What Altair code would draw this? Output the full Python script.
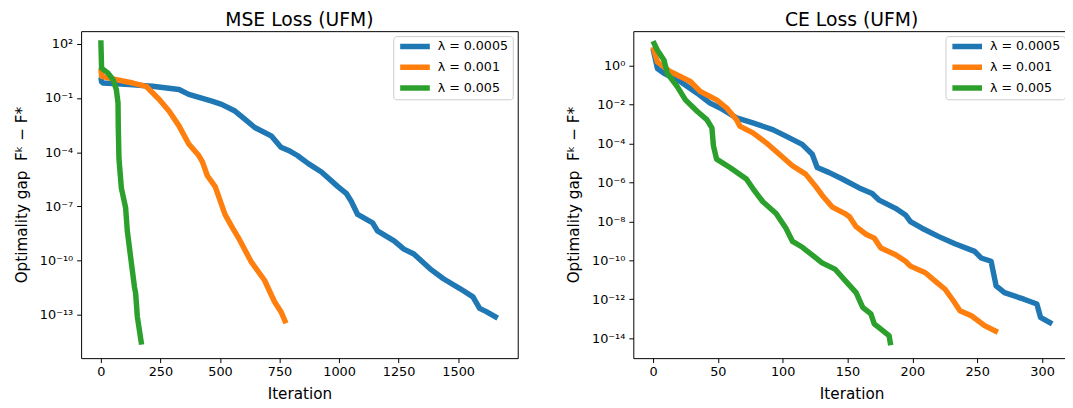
import altair as alt
import pandas as pd

series = ["λ = 0.0005", "λ = 0.001", "λ = 0.005"]
colors = ["#1f77b4", "#ff7f0e", "#2ca02c"]

# ---- MSE Loss (UFM): iteration and log10(optimality gap) ----
mse_blue_x = [0, 3, 10, 120, 217, 328, 369, 466, 507, 563, 604, 646, 715, 756, 788, 825, 871, 926, 995, 1030, 1051, 1078, 1141, 1161, 1231, 1272, 1314, 1382, 1438, 1507, 1562, 1590, 1618, 1666]
mse_blue_log10 = [0.15, -0.1, -0.17, -0.26, -0.35, -0.53, -0.80, -1.17, -1.35, -1.72, -2.17, -2.63, -3.09, -3.72, -3.90, -4.18, -4.63, -5.09, -5.90, -6.27, -6.71, -7.44, -7.90, -8.35, -8.90, -9.36, -9.63, -10.45, -11.0, -11.54, -12.0, -12.64, -12.82, -13.18]

mse_orange_x = [0, 3, 65, 134, 190, 245, 286, 328, 369, 411, 426, 447, 480, 521, 552, 577, 632, 687, 729, 756, 777]
mse_orange_log10 = [0.65, 0.20, 0.02, -0.17, -0.35, -1.08, -1.72, -2.54, -3.54, -4.18, -4.52, -5.30, -5.90, -7.44, -8.17, -8.72, -10.08, -11.08, -12.27, -12.82, -13.46]

mse_green_x = [0, 3, 30, 51, 65, 72, 73, 76, 86, 104, 111, 125, 141, 146, 153, 171]
mse_green_log10 = [2.2, 0.65, 0.38, 0.02, -0.53, -1.27, -2.54, -4.36, -5.98, -7.08, -8.35, -9.81, -11.45, -11.8, -13.09, -14.64]

# ---- CE Loss (UFM) ----
ce_blue_x = [0, 3.4, 8.5, 21, 34, 44, 51.7, 64.4, 77, 92.3, 102.5, 115, 122.8, 126.6, 135.5, 146, 159, 169, 174.4, 187, 194.7, 198.5, 207.4, 220, 232.8, 248, 253, 260.7, 264.6, 271, 286, 296, 298.8, 307.8]
ce_blue_log10 = [0.88, -0.14, -0.39, -0.81, -1.41, -1.92, -2.17, -2.68, -2.94, -3.28, -3.62, -4.04, -4.55, -5.23, -5.48, -5.82, -6.28, -6.57, -6.91, -7.33, -7.67, -8.01, -8.35, -8.77, -9.15, -9.54, -9.88, -10.05, -11.32, -11.66, -12.0, -12.25, -12.93, -13.27]

ce_orange_x = [0, 3.4, 13.6, 28.8, 36.4, 49, 56.8, 64.4, 66.9, 77, 87.3, 97.4, 107.5, 117.7, 125.4, 130.4, 138, 148, 151.5, 156.6, 164.2, 170.6, 175.7, 187, 194.7, 198.5, 210, 217.6, 225.2, 231.6, 236.7, 245.5, 255.7, 265.9]
ce_orange_log10 = [0.97, 0.2, -0.31, -0.81, -1.32, -1.75, -2.17, -2.77, -3.1, -3.45, -3.96, -4.55, -5.14, -5.57, -6.2, -6.65, -7.25, -7.6, -7.76, -8.27, -8.66, -8.86, -9.37, -9.71, -10.05, -10.30, -10.64, -11.07, -11.49, -12.08, -12.59, -12.85, -13.36, -13.70]

ce_green_x = [0, 3.4, 8.5, 11, 18.7, 25, 34, 41.5, 45.4, 46.6, 49, 59.3, 72, 77, 84.7, 94.9, 102.5, 107.6, 115.2, 130.4, 140.6, 150.8, 156.6, 161.7, 168, 170.6, 182, 183.3]
ce_green_log10 = [1.27, 0.8, 0.29, -0.39, -1.07, -1.75, -2.34, -2.77, -3.19, -4.12, -4.80, -5.23, -5.82, -6.31, -6.99, -7.59, -8.35, -9.03, -9.33, -10.13, -10.47, -11.24, -11.66, -12.42, -12.76, -13.27, -13.87, -14.37]

mse_xticks = [0, 250, 500, 750, 1000, 1250, 1500]
ce_xticks = [0, 50, 100, 150, 200, 250, 300]
mse_yexp = [2, -1, -4, -7, -10, -13]
ce_yexp = [0, -2, -4, -6, -8, -10, -12, -14]
titles = ["MSE Loss (UFM)", "CE Loss (UFM)"]

FONT = "DejaVu Sans"
W, H = 442, 331


def build(xs, ys):
    rows = []
    for name, xv, yv in zip(series, xs, ys):
        for i, (a, b) in enumerate(zip(xv, yv)):
            rows.append({"series": name, "iter": a, "gap": 10 ** b, "idx": i})
    return pd.DataFrame(rows)


def sup(n):
    return "10" + str(n).translate(str.maketrans("-0123456789", "⁻⁰¹²³⁴⁵⁶⁷⁸⁹"))


def label_expr(exps):
    return "".join(f"round(log(datum.value)/LN10)=={e} ? '{sup(e)}' : " for e in exps) + "''"


def panel(df, title, xdom, xticks, ydom, yexp):
    lines = alt.Chart(df).mark_line(strokeWidth=5.5, strokeJoin="round", strokeCap="butt").encode(
        x=alt.X("iter:Q", scale=alt.Scale(domain=xdom, nice=False, zero=False),
                axis=alt.Axis(values=xticks, format="d", title="Iteration")),
        y=alt.Y("gap:Q", scale=alt.Scale(type="log", domain=ydom, nice=False),
                axis=alt.Axis(values=[10.0 ** e for e in yexp], labelExpr=label_expr(yexp),
                              title="Optimality gap\u00a0\u00a0Fᵏ − F*", titlePadding=10)),
        color=alt.Color("series:N", scale=alt.Scale(domain=series, range=colors),
                        legend=alt.Legend(title=None, orient="none", legendX=316, legendY=5,
                                          symbolType="stroke", symbolSize=900,
                                          symbolStrokeWidth=5.5, symbolOpacity=1,
                                          clipHeight=13,
                                          labelFont=FONT, labelFontSize=12.8, labelColor="black",
                                          labelOffset=5, padding=4, rowPadding=7,
                                          strokeColor="#cccccc", fillColor="rgba(255,255,255,0.85)",
                                          cornerRadius=3)),
        order="idx:Q",
    )
    ttl = alt.Chart(pd.DataFrame({"t": [title]})).mark_text(
        font=FONT, fontSize=19, color="black", align="center", baseline="alphabetic"
    ).encode(text="t:N", x=alt.value(W / 2), y=alt.value(-5))
    return alt.layer(lines, ttl).properties(width=W, height=H)


left = panel(build([mse_blue_x, mse_orange_x, mse_green_x],
                   [mse_blue_log10, mse_orange_log10, mse_green_log10]),
             titles[0], [-83, 1750], mse_xticks, [10 ** -15.39, 10 ** 2.7], mse_yexp)
right = panel(build([ce_blue_x, ce_orange_x, ce_green_x],
                    [ce_blue_log10, ce_orange_log10, ce_green_log10]),
              titles[1], [-15.2, 321.5], ce_xticks, [10 ** -15.03, 10 ** 1.78], ce_yexp)

chart = alt.hconcat(left, right, spacing=48).resolve_scale(color="independent").properties(
    padding={"left": 6, "top": 0, "right": -6, "bottom": 0}
).configure_view(stroke="black", strokeWidth=1).configure_axis(
    grid=False, domain=False, ticks=True, tickColor="black", tickSize=4.5, tickWidth=1,
    labelFont=FONT, labelFontSize=13, labelColor="black", labelPadding=4,
    titleFont=FONT, titleFontSize=15.4, titleFontWeight="normal", titleColor="black",
).configure_axisX(labelPadding=3, titlePadding=8)

chart.save("out.html", embed_options={"renderer": "svg", "actions": False})
